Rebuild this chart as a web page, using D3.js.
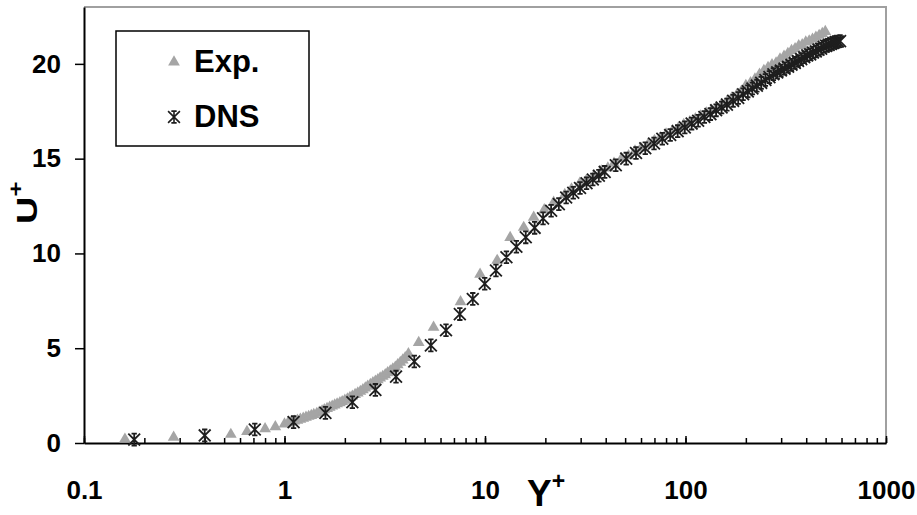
<!DOCTYPE html>
<html>
<head>
<meta charset="utf-8">
<script src="https://cdn.jsdelivr.net/npm/d3@7"></script>
<style>
  body { margin: 0; background: #fff; }
  svg text { font-family: "Liberation Sans", Arial, sans-serif; font-weight: bold; fill: #000; }
</style>
</head>
<body>
<svg id="chart" width="917" height="515"></svg>
<script>
// DNS (stars)
const dnsY = [0.178, 0.400, 0.711, 1.11, 1.60, 2.18, 2.84, 3.60, 4.44, 5.37, 6.39, 7.49, 8.69, 9.97,
  11.34, 12.79, 14.34, 15.97, 17.68, 19.48, 21.37, 23.35, 25.40, 27.55, 29.78, 32.09, 34.49, 36.97,
  39.53, 44.91, 50.62, 56.65, 63.0, 69.66, 76.62, 83.87, 91.41, 99.22, 107.3, 115.6, 124.2, 133.1,
  142.1, 151.4, 160.9, 172.8, 183.2, 193.8, 204.6, 215.7, 227.0, 238.5, 250.3, 262.2, 274.4, 286.7,
  299.2, 311.9, 324.7, 337.7, 350.9, 364.2, 377.7, 391.2, 404.9, 418.7, 432.6, 446.6, 460.7, 474.9,
  489.1, 503.4, 517.8, 532.2, 546.6, 561.0, 575.5, 590.0];
const dnsU = [0.18, 0.40, 0.71, 1.10, 1.59, 2.15, 2.80, 3.50, 4.30, 5.15, 5.95, 6.80, 7.60, 8.40,
  9.10, 9.80, 10.35, 10.85, 11.35, 11.85, 12.25, 12.60, 12.95, 13.20, 13.45, 13.70, 13.90, 14.10,
  14.30, 14.65, 15.00, 15.30, 15.55, 15.80, 16.05, 16.25, 16.45, 16.65, 16.85, 17.00, 17.20, 17.35,
  17.55, 17.70, 17.85, 18.05, 18.20, 18.40, 18.55, 18.70, 18.85, 19.00, 19.15, 19.30, 19.45, 19.55,
  19.65, 19.75, 19.85, 19.95, 20.05, 20.15, 20.25, 20.35, 20.45, 20.50, 20.60, 20.65, 20.75, 20.80,
  20.90, 20.95, 21.00, 21.05, 21.10, 21.15, 21.18, 21.20];

// Exp. (triangles)
const expY = [0.16, 0.28, 0.54, 0.65, 0.80, 0.90,
  1.00, 1.04, 1.08, 1.12, 1.16, 1.20, 1.24, 1.28, 1.32, 1.36, 1.40, 1.45, 1.49, 1.54, 1.58, 1.63,
  1.68, 1.73, 1.78, 1.83, 1.89, 1.94, 2.00, 2.06, 2.12, 2.18, 2.25, 2.32, 2.39, 2.46, 2.53, 2.60,
  2.68, 2.76, 2.84, 2.92, 3.00, 3.09, 3.18, 3.27, 3.37, 3.47, 3.57, 3.67, 3.78, 3.89, 4.00, 4.15,
  4.67, 5.54, 7.55, 9.45, 11.5, 13.35, 15.6, 17.5, 19.75, 22.0, 25.0, 27.0, 29.7, 32, 35, 38,
  41, 44, 48, 52, 56, 60, 65, 70, 75, 80, 86, 92, 98, 105, 112, 119, 127, 135, 143, 152, 161, 170,
  180, 190, 200, 211, 222, 234, 246, 258, 270, 283, 296, 310, 324, 338, 352, 367, 382, 398, 414,
  430, 447, 464, 481, 498];
const expU = [0.20, 0.30, 0.45, 0.60, 0.75, 0.85,
  1.00, 1.05, 1.10, 1.15, 1.20, 1.25, 1.30, 1.35, 1.40, 1.45, 1.50, 1.56, 1.62, 1.69, 1.75, 1.82,
  1.88, 1.94, 2.00, 2.06, 2.12, 2.18, 2.25, 2.32, 2.40, 2.47, 2.55, 2.63, 2.72, 2.81, 2.90, 2.99,
  3.08, 3.17, 3.25, 3.33, 3.42, 3.51, 3.60, 3.70, 3.80, 3.90, 4.00, 4.12, 4.25, 4.37, 4.50, 4.70,
  5.30, 6.10, 7.45, 8.90, 9.63, 10.84, 11.37, 11.90, 12.30, 12.70, 13.10, 13.40, 13.70, 13.85,
  14.10, 14.35, 14.50, 14.75, 15.00, 15.15, 15.40, 15.55, 15.75, 15.95, 16.10, 16.30, 16.45, 16.60,
  16.80, 16.95, 17.10, 17.25, 17.40, 17.55, 17.70, 17.85, 18.00, 18.20, 18.35, 18.55, 18.85, 19.00,
  19.20, 19.45, 19.65, 19.80, 19.95, 20.05, 20.25, 20.40, 20.55, 20.70, 20.80, 20.95, 21.00, 21.15,
  21.20, 21.30, 21.40, 21.50, 21.60, 21.70];

const xTickValues = [0.1, 1, 10, 100, 1000];
const xTickLabels = ["0.1", "1", "10", "100", "1000"];
const yTickValues = [0, 5, 10, 15, 20];
const seriesNames = ["Exp.", "DNS"];

const EXP_COLOR = "#a5a5a5";
const DNS_COLOR = "#1e1e1e";

const margin = { top: 7, right: 31, bottom: 72, left: 84 };
const W = 917, H = 515;

const svg = d3.select("#chart");

const x = d3.scaleLog().domain([0.1, 1000]).range([margin.left, W - margin.right]);
const y = d3.scaleLinear().domain([0, 23]).range([H - margin.bottom, margin.top]);

// asterisk marker, capped top and bottom
const symbolStar = {
  draw(ctx, size) {
    const r = Math.sqrt(size) / 2;
    const c = r * 0.45;
    ctx.moveTo(-r, -r); ctx.lineTo(r, r);
    ctx.moveTo(-r, r);  ctx.lineTo(r, -r);
    ctx.moveTo(0, -r);  ctx.lineTo(0, r);
    ctx.moveTo(-c, -r); ctx.lineTo(c, -r);
    ctx.moveTo(-c, r);  ctx.lineTo(c, r);
  }
};
const triPath  = d3.symbol(d3.symbolTriangle, 60)();
const starPath = d3.symbol(symbolStar, 140)();

// frame (top/right in grey)
svg.append("path")
  .attr("d", `M${x(0.1)},${y(23)} H${x(1000)} V${y(0)}`)
  .attr("fill", "none").attr("stroke", "#a0a0a0").attr("stroke-width", 2);

// x axis: major + minor ticks pointing inward
const xAxisG = svg.append("g").attr("transform", `translate(0,${y(0)})`);
xAxisG.append("g")
  .call(d3.axisBottom(x).tickValues(x.ticks()).tickSizeInner(-5).tickSizeOuter(0).tickFormat(""))
  .call(g => g.selectAll("line").attr("stroke", "#000").attr("stroke-width", 1.5));
xAxisG.append("g")
  .call(d3.axisBottom(x).tickValues(xTickValues).tickSizeInner(-7).tickSizeOuter(0).tickPadding(38)
          .tickFormat((d, i) => xTickLabels[i]))
  .call(g => g.selectAll("line").attr("stroke", "#000").attr("stroke-width", 1.5))
  .call(g => g.selectAll(".domain").attr("stroke", "#000").attr("stroke-width", 2))
  .call(g => g.selectAll("text").style("font-size", "26px"));

// y axis
svg.append("g").attr("transform", `translate(${x(0.1)},0)`)
  .call(d3.axisLeft(y).tickValues(yTickValues).tickSizeInner(9).tickSizeOuter(0).tickPadding(14))
  .call(g => g.selectAll("line").attr("stroke", "#000").attr("stroke-width", 1.5))
  .call(g => g.select(".domain").attr("stroke", "#000").attr("stroke-width", 2))
  .call(g => g.selectAll("text").style("font-size", "26px"));

// data
const expData = expY.map((v, i) => [v, expU[i]]);
const dnsData = dnsY.map((v, i) => [v, dnsU[i]]);

svg.append("g").selectAll("path").data(expData).join("path")
  .attr("d", triPath)
  .attr("transform", d => `translate(${x(d[0])},${y(d[1])})`)
  .attr("fill", EXP_COLOR);

svg.append("g").selectAll("path").data(dnsData).join("path")
  .attr("d", starPath)
  .attr("transform", d => `translate(${x(d[0])},${y(d[1])})`)
  .attr("fill", "none").attr("stroke", DNS_COLOR).attr("stroke-width", 1.8);

// axis titles
const xTitle = svg.append("text").attr("x", 527).attr("y", 506).style("font-size", "37px");
xTitle.append("tspan").text("Y");
xTitle.append("tspan").attr("dy", -17).style("font-size", "23px").text("+");

const yTitle = svg.append("text")
  .attr("transform", "translate(37,224) rotate(-90) scale(1,0.78)")
  .style("font-size", "38px");
yTitle.append("tspan").text("U");
yTitle.append("tspan").attr("dy", -18).style("font-size", "26px").text("+");

// legend
const lg = svg.append("g");
lg.append("rect").attr("x", 116).attr("y", 31).attr("width", 193).attr("height", 115)
  .attr("fill", "#fff").attr("stroke", "#000").attr("stroke-width", 1.5);
const legendRows = [
  { name: seriesNames[0], path: triPath,  fill: EXP_COLOR, stroke: "none",    cy: 62 },
  { name: seriesNames[1], path: starPath, fill: "none",    stroke: DNS_COLOR, cy: 117 }
];
legendRows.forEach(r => {
  lg.append("path").attr("d", r.path).attr("transform", `translate(174,${r.cy})`)
    .attr("fill", r.fill).attr("stroke", r.stroke).attr("stroke-width", 1.6);
  lg.append("text").attr("x", 194).attr("y", r.cy + 10).style("font-size", "31px").text(r.name);
});
</script>
</body>
</html>
